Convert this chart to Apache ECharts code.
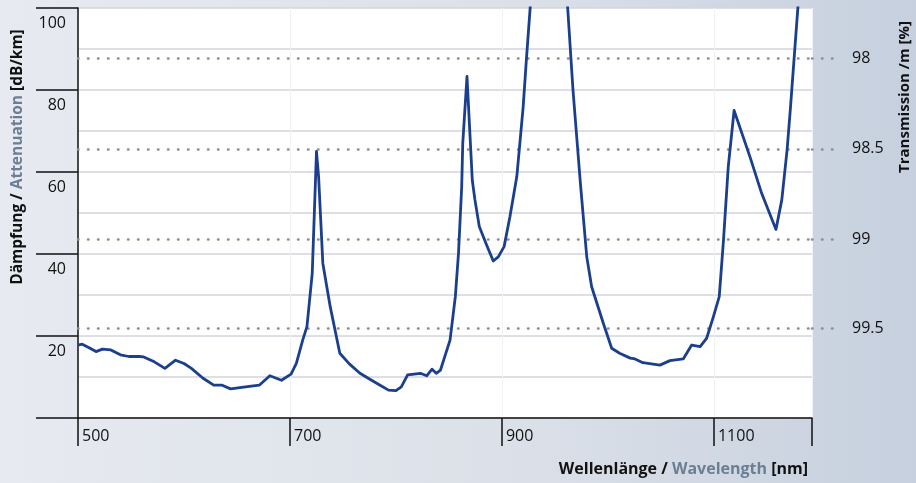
<!DOCTYPE html>
<html>
<head>
<meta charset="utf-8">
<script src="https://cdn.jsdelivr.net/npm/echarts@6/dist/echarts.min.js"></script>
<style>
  html, body { margin: 0; padding: 0; }
  body { background: linear-gradient(to right, #e7eaf0 0%, #dce1e9 55%, #c6d0de 100%); }
  #chart { width: 916px; height: 483px; }
</style>
</head>
<body>
<div id="chart"></div>
<script>
// Spectral attenuation of the fibre, wavelength in nm
const wavelength = [
  500, 504, 510, 517, 523, 531, 540, 548, 558, 562, 572, 582, 592, 600, 607,
  618, 628, 636, 644, 658, 671, 681, 692, 701, 706, 712, 716, 721, 725, 727,
  731, 738, 747, 756, 766, 775, 785, 793, 800, 805, 811, 823, 829, 834, 838,
  842, 851, 856, 859, 862, 863, 867, 872, 874.5, 878.6, 885.5, 891.8, 896.5, 902, 907.5,
  914, 920, 923, 928, 940, 950, 962, 967, 974, 980, 984.6, 995.6, 1003.5, 1011, 1021,
  1025.5, 1033, 1049, 1058.5, 1071, 1079, 1087, 1093, 1099, 1105, 1109, 1113.5, 1119, 1134, 1145,
  1158.5, 1164, 1169, 1172, 1179, 1182
];
// Attenuation in dB/km
const attenuation = [
  17.8, 18.0, 17.2, 16.2, 16.8, 16.6, 15.4, 15.0, 15.0, 14.9, 13.7, 12.1, 14.1, 13.3, 12.1,
  9.7, 8.0, 8.0, 7.1, 7.6, 8.0, 10.3, 9.2, 10.7, 13.3, 19.0, 22.3, 35.3, 65.0, 58.9,
  37.7, 27.1, 15.8, 13.2, 10.9, 9.5, 8.0, 6.8, 6.7, 7.6, 10.5, 10.9, 10.3, 11.9, 10.9,
  11.7, 19.0, 29.6, 40.2, 56.4, 67.0, 83.3, 58.0, 53.2, 46.7, 42.2, 38.3, 39.3, 41.8, 49.1,
  58.9, 75.9, 87.3, 105, 135, 135, 100, 80, 57.2, 39.3, 32.0, 23.1, 17.0, 15.8, 14.6,
  14.4, 13.5, 12.9, 14.0, 14.4, 17.8, 17.4, 19.4, 24.3, 29.6, 43.4, 61.3, 75.0, 63.7, 54.8,
  46.0, 53.2, 65.4, 75.1, 99.5, 108
];
// Transmission per metre (%) shown on the right-hand scale
const transmissionTicks = [98, 98.5, 99, 99.5];

// dB/km equivalent of a transmission per metre given in percent
function transToAtt(t) { return -10000 * Math.log10(t / 100); }
function attToTrans(a) { return 100 * Math.pow(10, -a / 10000); }

const FONT = 'Open Sans';
const DARK = '#111111';
const ACCENT = '#6c7e94';
const DOT = { color: '#8e8e8e', width: 2.5, type: [0.5, 9.5], cap: 'round' };
const transAtt = transmissionTicks.map(transToAtt);

const chart = echarts.init(document.getElementById('chart'), null, { renderer: 'canvas' });

chart.setOption({
  backgroundColor: 'transparent',
  animation: false,
  grid: {
    left: 78, right: 104, top: 8, bottom: 65,
    show: true, backgroundColor: '#ffffff', borderWidth: 0
  },
  xAxis: {
    type: 'value',
    min: 500, max: 1192.5, interval: 200,
    axisLine: { show: true, lineStyle: { color: DARK, width: 1.5 } },
    axisTick: { show: true, length: 28, lineStyle: { color: DARK, width: 1.5 } },
    axisLabel: {
      fontFamily: FONT, fontSize: 16, color: DARK,
      align: 'left', margin: 10, padding: [0, 0, 0, 4],
      formatter: v => ((v - 500) % 200 === 0 ? String(v) : '')
    },
    splitLine: { show: true, lineStyle: { color: '#f1f2f6', width: 1 } }
  },
  yAxis: [
    {
      type: 'value',
      min: 0, max: 100, interval: 20,
      axisLine: { show: true, lineStyle: { color: DARK, width: 1.5 } },
      axisTick: { show: true, length: 42, lineStyle: { color: DARK, width: 1.5 } },
      axisLabel: {
        fontFamily: FONT, fontSize: 16, color: DARK,
        margin: 12, verticalAlign: 'top', lineHeight: 18, padding: [6, 0, 0, 0],
        formatter: v => (v === 0 ? '' : String(v))
      },
      splitLine: { show: true, lineStyle: { color: '#d3d5dd', width: 1.5 } },
      minorTick: { show: false, splitNumber: 2 },
      minorSplitLine: { show: true, lineStyle: { color: '#d3d5dd', width: 1.5 } }
    },
    {
      type: 'value',
      position: 'right',
      min: 0, max: 100,
      axisLine: { show: false },
      axisTick: { show: true, length: 28, customValues: transAtt, lineStyle: DOT },
      axisLabel: {
        fontFamily: FONT, fontSize: 16, color: DARK, margin: 40,
        customValues: transAtt,
        formatter: v => String(Number(attToTrans(v).toFixed(1)))
      },
      splitLine: { show: false }
    }
  ],
  series: [
    {
      type: 'line',
      data: wavelength.map((w, i) => [w, attenuation[i]]),
      showSymbol: false,
      symbol: 'none',
      clip: true,
      lineStyle: { color: '#1b3f8d', width: 2.8, join: 'round' },
      z: 3,
      markLine: {
        silent: true,
        symbol: 'none',
        label: { show: false },
        lineStyle: DOT,
        data: transAtt.map(a => ({ yAxis: a })),
        z: 2
      }
    }
  ],
  graphic: [
    {
      type: 'text',
      x: 18, y: 157, rotation: Math.PI / 2,
      style: {
        text: '{b|Dämpfung / }{g|Attenuation}{b| [dB/km]}',
        align: 'center', verticalAlign: 'middle',
        rich: {
          b: { fontFamily: FONT, fontWeight: 'bold', fontSize: 15.5, fill: DARK },
          g: { fontFamily: FONT, fontWeight: 'bold', fontSize: 15.5, fill: ACCENT }
        }
      }
    },
    {
      type: 'text',
      x: 905, y: 97, rotation: Math.PI / 2,
      style: {
        text: 'Transmission /m [%]',
        align: 'center', verticalAlign: 'middle',
        fontFamily: FONT, fontWeight: 'bold', fontSize: 15, fill: DARK
      }
    },
    {
      type: 'text',
      x: 808, y: 469,
      style: {
        text: '{b|Wellenlänge / }{g|Wavelength}{b| [nm]}',
        align: 'right', verticalAlign: 'middle',
        rich: {
          b: { fontFamily: FONT, fontWeight: 'bold', fontSize: 16, fill: DARK },
          g: { fontFamily: FONT, fontWeight: 'bold', fontSize: 16, fill: ACCENT }
        }
      }
    }
  ]
});
</script>
</body>
</html>
